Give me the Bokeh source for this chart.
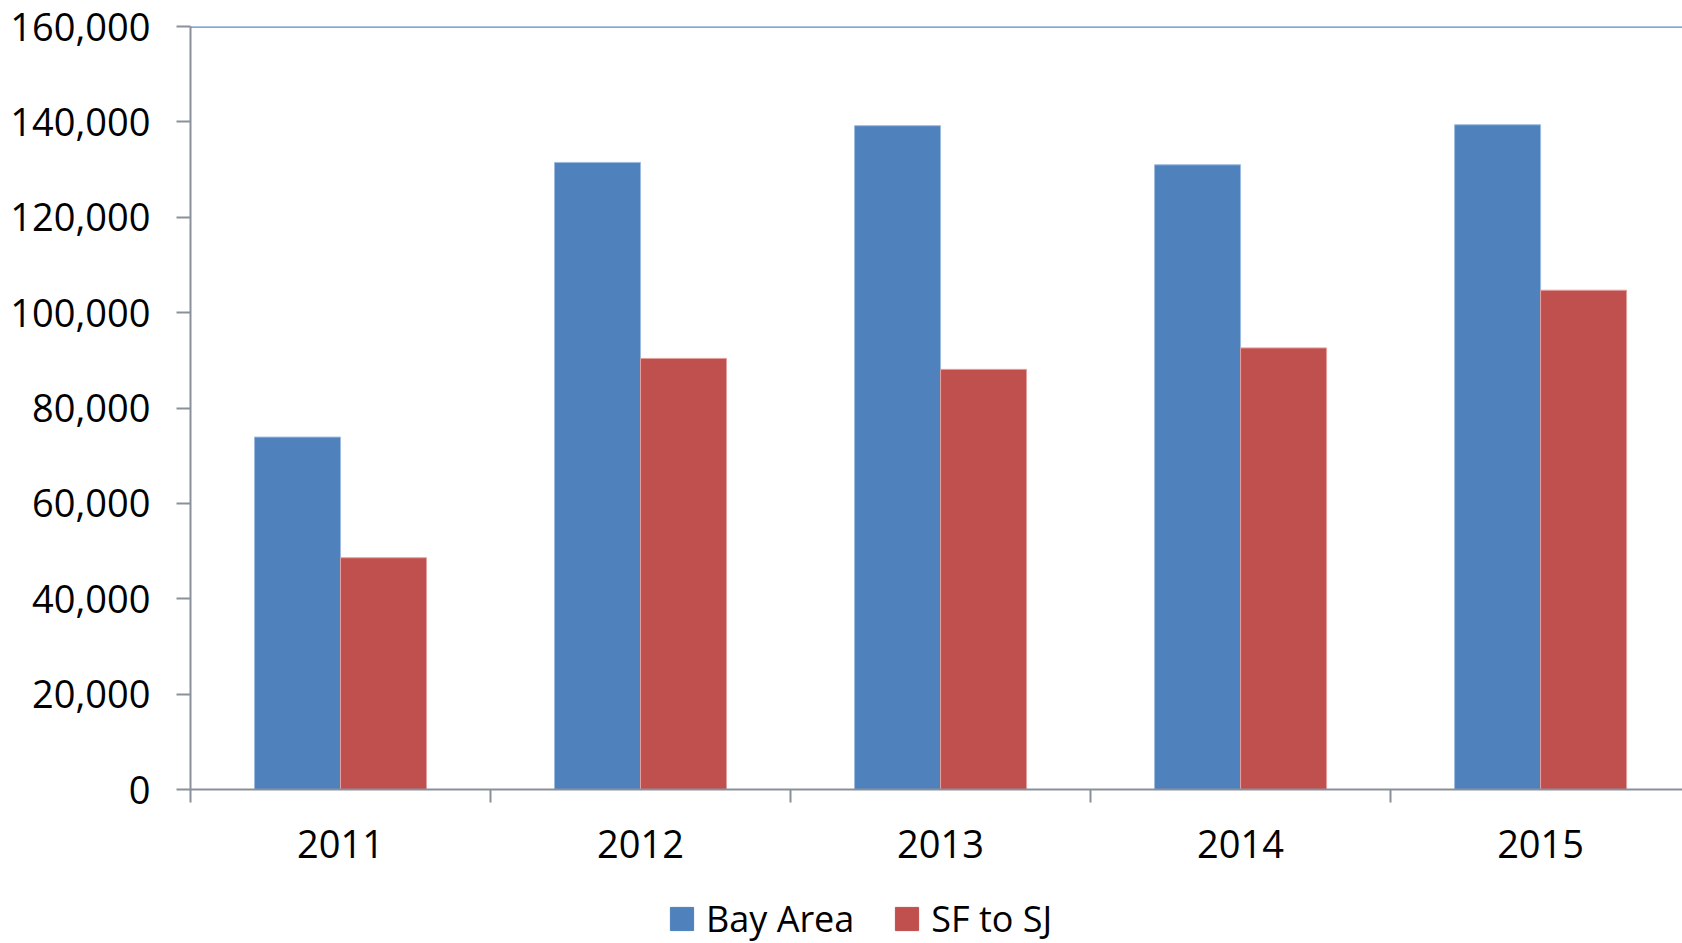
from bokeh.plotting import figure
from bokeh.layouts import column
from bokeh.models import (Range1d, LinearAxis, FixedTicker, NumeralTickFormatter,
                          Legend, LegendItem, Span, ColumnDataSource)
from bokeh.embed import file_html
from bokeh.resources import INLINE
import numpy as np

# Annual figures per region
years = ["2011", "2012", "2013", "2014", "2015"]
bay_area = [73900, 131500, 139200, 131000, 139400]
sf_to_sj = [48600, 90400, 88100, 92600, 104700]
series_names = ["Bay Area", "SF to SJ"]
y_ticks = [0, 20000, 40000, 60000, 80000, 100000, 120000, 140000, 160000]

BLUE = "#4f81bd"
RED = "#c0504d"
BLUE_EDGE = "#9dbbe0"
RED_EDGE = "#e2a09e"
GRID = "#8c8c8c"
AXIS = "#8a9099"
FONT = "Open Sans"

n = len(years)
centers = np.arange(n) + 0.5
bar_w = 0.2867

src = ColumnDataSource(dict(
    x_bay=centers - bar_w / 2,
    x_sfsj=centers + bar_w / 2,
    bay=bay_area,
    sfsj=sf_to_sj,
))

p = figure(width=1682, height=880, output_backend="svg", toolbar_location=None,
           x_range=Range1d(0, 4.973), y_range=Range1d(0, y_ticks[-1]),
           x_axis_type=None, y_axis_type=None,
           min_border_left=190, min_border_right=0, min_border_top=26,
           min_border_bottom=91)
p.outline_line_color = None
p.background_fill_color = "white"
p.border_fill_color = "white"

# value axis
yax = LinearAxis(ticker=FixedTicker(ticks=y_ticks),
                 formatter=NumeralTickFormatter(format="0,0"))
yax.axis_line_color = AXIS
yax.axis_line_width = 2
yax.major_tick_line_color = AXIS
yax.major_tick_line_width = 2
yax.major_tick_in = 0
yax.major_tick_out = 14
yax.minor_tick_line_color = None
yax.major_label_standoff = 26
yax.major_label_text_font = FONT
yax.major_label_text_font_size = "38px"
yax.major_label_text_color = "black"
p.add_layout(yax, "left")

# category axis: labels at group centres, tick marks at group boundaries
xax = LinearAxis(ticker=FixedTicker(ticks=list(centers),
                                    minor_ticks=list(np.arange(n + 1))))
xax.major_label_overrides = {float(c): y for c, y in zip(centers, years)}
xax.axis_line_color = AXIS
xax.axis_line_width = 2
xax.major_tick_line_color = None
xax.major_tick_in = 0
xax.major_tick_out = 0
xax.minor_tick_line_color = AXIS
xax.minor_tick_line_width = 2
xax.minor_tick_in = 0
xax.minor_tick_out = 13
xax.major_label_standoff = 27
xax.major_label_text_font = FONT
xax.major_label_text_font_size = "38px"
xax.major_label_text_color = "black"
p.add_layout(xax, "below")

# horizontal gridlines
p.ygrid.ticker = FixedTicker(ticks=y_ticks[:-1])
p.ygrid.grid_line_color = GRID
p.ygrid.grid_line_width = 2
p.xgrid.grid_line_color = None
p.add_layout(Span(location=y_ticks[-1], dimension="width",
                  line_color="#5b88c2", line_width=2.5))

p.vbar(x="x_bay", top="bay", width=bar_w, bottom=0, source=src,
       fill_color=BLUE, line_color=BLUE_EDGE, line_width=1)
p.vbar(x="x_sfsj", top="sfsj", width=bar_w, bottom=0, source=src,
       fill_color=RED, line_color=RED_EDGE, line_width=1)

# legend strip under the chart (its frame lines up with the chart frame)
leg = figure(width=1682, height=63, output_backend="svg", toolbar_location=None,
             x_range=Range1d(0, 1), y_range=Range1d(0, 1),
             x_axis_type=None, y_axis_type=None,
             min_border=0)
leg.outline_line_color = None
leg.xgrid.grid_line_color = None
leg.ygrid.grid_line_color = None
k_bay = leg.vbar(x="x_bay", top="bay", width=bar_w, source=src,
                 fill_color=BLUE, line_color=BLUE, visible=False)
k_sf = leg.vbar(x="x_sfsj", top="sfsj", width=bar_w, source=src,
                fill_color=RED, line_color=RED, visible=False)

legend = Legend(items=[LegendItem(label=series_names[0], renderers=[k_bay]),
                       LegendItem(label=series_names[1], renderers=[k_sf])],
                orientation="horizontal", location=(477, 0))
legend.click_policy = "none"
legend.border_line_color = None
legend.background_fill_alpha = 0
legend.padding = 0
legend.margin = 0
legend.spacing = 38
legend.glyph_width = 29
legend.glyph_height = 29
legend.label_standoff = 10
legend.label_text_font = FONT
legend.label_text_font_size = "36px"
legend.label_text_color = "black"
leg.add_layout(legend, "center")

open("out.html", "w").write(file_html(column(p, leg, spacing=0), INLINE))
